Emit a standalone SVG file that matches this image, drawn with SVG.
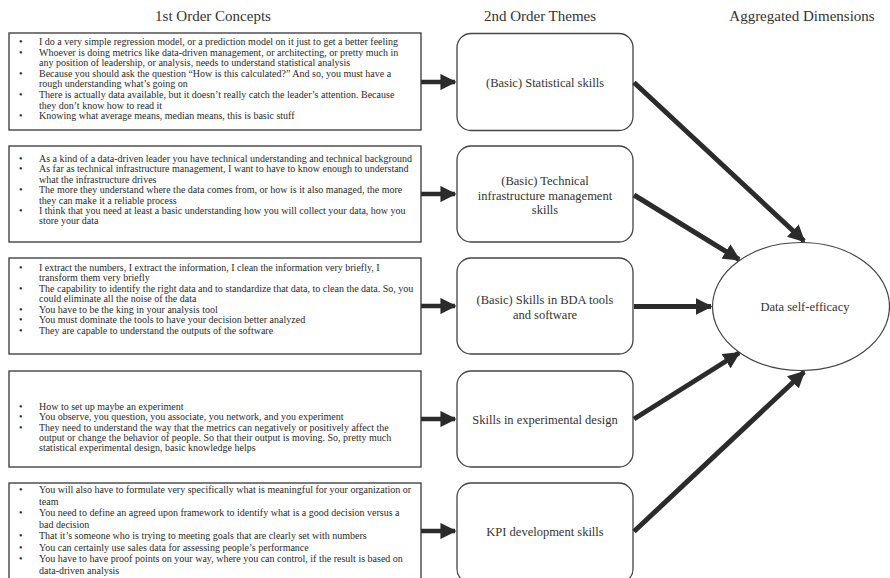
<svg xmlns="http://www.w3.org/2000/svg" width="890" height="578" viewBox="0 0 890 578">
<defs>
<style>
.hdr{font-family:"Liberation Serif","Times New Roman",serif;font-size:15px;fill:#333;text-anchor:middle}
.src{fill:#fff;stroke:#444;stroke-width:1.4}
.thm{fill:#fff;stroke:#444;stroke-width:1.3}
.t{font-family:"Liberation Serif","Times New Roman",serif;font-size:10px;fill:#2a2a2a}
.m{font-family:"Liberation Serif","Times New Roman",serif;font-size:12.5px;fill:#333;text-anchor:middle}
.con{stroke:#2b2b2b;stroke-width:5;fill:none}
.hz{stroke:#2b2b2b;stroke-width:4.5;fill:none}
</style>
<marker id="ah" viewBox="0 0 10 10" refX="9" refY="5" markerWidth="3.4" markerHeight="3.4" markerUnits="strokeWidth" orient="auto">
<path d="M0,0 L10,5 L0,10 z" fill="#2b2b2b"/>
</marker>
<marker id="ahh" viewBox="0 0 10 10" refX="9" refY="5" markerWidth="3.6" markerHeight="3.6" markerUnits="strokeWidth" orient="auto">
<path d="M0,0 L10,5 L0,10 z" fill="#2b2b2b"/>
</marker>
</defs>
<rect width="890" height="578" fill="#fff"/>
<text class="hdr" x="213" y="21">1st Order Concepts</text>
<text class="hdr" x="540" y="21">2nd Order Themes</text>
<text class="hdr" x="802" y="21">Aggregated Dimensions</text>

<g id="src1">
<rect class="src" x="9" y="33" width="412" height="97"/>
<text class="t"><tspan x="19" y="45">•</tspan><tspan x="39" y="45">I do a very simple regression model, or a prediction model on it just to get a better feeling</tspan>
<tspan x="19" y="55.6">•</tspan><tspan x="39" y="55.6">Whoever is doing metrics like data-driven management, or architecting, or pretty much in</tspan>
<tspan x="39" y="66.2">any position of leadership, or analysis,  needs to understand statistical analysis</tspan>
<tspan x="19" y="76.8">•</tspan><tspan x="39" y="76.8">Because you should ask the question “How is this  calculated?” And so, you must have a</tspan>
<tspan x="39" y="87.4">rough understanding what’s going on</tspan>
<tspan x="19" y="98">•</tspan><tspan x="39" y="98">There is actually data available, but it doesn’t really catch the leader’s attention. Because</tspan>
<tspan x="39" y="108.6">they don’t know how to read it</tspan>
<tspan x="19" y="119.2">•</tspan><tspan x="39" y="119.2">Knowing what average means, median means, this is basic stuff</tspan></text>
</g>

<g id="src2">
<rect class="src" x="9" y="146" width="412" height="96"/>
<text class="t"><tspan x="19" y="162">•</tspan><tspan x="39" y="162">As a kind of a data-driven leader you have technical understanding and technical background</tspan>
<tspan x="19" y="172.4">•</tspan><tspan x="39" y="172.4">As far as technical infrastructure management, I want  to have to know enough to understand</tspan>
<tspan x="39" y="182.8">what the infrastructure drives</tspan>
<tspan x="19" y="193.2">•</tspan><tspan x="39" y="193.2">The more they understand where the data comes from, or how is it also managed, the more</tspan>
<tspan x="39" y="203.6">they can make it a reliable process</tspan>
<tspan x="19" y="214">•</tspan><tspan x="39" y="214">I think that you need at least a basic understanding how you will collect your data, how you</tspan>
<tspan x="39" y="224.4">store your data</tspan></text>
</g>

<g id="src3">
<rect class="src" x="9" y="258" width="412" height="96"/>
<text class="t"><tspan x="19" y="270.5">•</tspan><tspan x="39" y="270.5">I extract the numbers, I extract the information, I clean the information very briefly, I</tspan>
<tspan x="39" y="281">transform them very briefly</tspan>
<tspan x="19" y="291.5">•</tspan><tspan x="39" y="291.5">The capability to identify the right data and to standardize that data, to clean the data. So, you</tspan>
<tspan x="39" y="302">could eliminate all the noise of the data</tspan>
<tspan x="19" y="312.5">•</tspan><tspan x="39" y="312.5">You have to be the king in your analysis tool</tspan>
<tspan x="19" y="323">•</tspan><tspan x="39" y="323">You must dominate the tools to have your decision better analyzed</tspan>
<tspan x="19" y="333.5">•</tspan><tspan x="39" y="333.5">They are capable to understand the outputs of the software</tspan></text>
</g>

<g id="src4">
<rect class="src" x="9" y="371" width="412" height="96"/>
<text class="t"><tspan x="19" y="410">•</tspan><tspan x="39" y="410">How to set up maybe an experiment</tspan>
<tspan x="19" y="420.3">•</tspan><tspan x="39" y="420.3">You observe, you question, you associate, you network, and you experiment</tspan>
<tspan x="19" y="430.6">•</tspan><tspan x="39" y="430.6">They need to understand the way  that the metrics can negatively or positively affect the</tspan>
<tspan x="39" y="440.9">output or change the behavior of people. So that their output is moving.  So, pretty much</tspan>
<tspan x="39" y="451.2">statistical experimental design, basic knowledge helps</tspan></text>
</g>

<g id="src5">
<rect class="src" x="9" y="483" width="412" height="100"/>
<text class="t"><tspan x="19" y="493">•</tspan><tspan x="39" y="493">You will also have to formulate very specifically what is meaningful for your organization or</tspan>
<tspan x="39" y="504.5">team</tspan>
<tspan x="19" y="516">•</tspan><tspan x="39" y="516">You need to define an agreed upon framework to identify what  is a good decision versus a</tspan>
<tspan x="39" y="527.5">bad decision</tspan>
<tspan x="19" y="539">•</tspan><tspan x="39" y="539">That  it’s someone who is trying to meeting goals that are clearly set with numbers</tspan>
<tspan x="19" y="550.5">•</tspan><tspan x="39" y="550.5">You can certainly use sales data for assessing people’s performance</tspan>
<tspan x="19" y="562">•</tspan><tspan x="39" y="562">You  have to have proof points on your way,  where you can control, if the result is based on</tspan>
<tspan x="39" y="573.5">data-driven analysis</tspan></text>
</g>

<g id="theme1">
<rect class="thm" x="457" y="33.5" width="176" height="97" rx="14"/>
<text class="m" x="545" y="87">(Basic) Statistical  skills</text>
</g>
<g id="theme2">
<rect class="thm" x="457" y="146" width="176" height="96" rx="14"/>
<text class="m" x="545" y="184.5">(Basic) Technical</text>
<text class="m" x="545" y="199.5">infrastructure management</text>
<text class="m" x="545" y="214">skills</text>
</g>
<g id="theme3">
<rect class="thm" x="457" y="258" width="176" height="96" rx="14"/>
<text class="m" x="545" y="303.5">(Basic) Skills in BDA tools</text>
<text class="m" x="545" y="318.5">and software</text>
</g>
<g id="theme4">
<rect class="thm" x="457" y="371" width="176" height="96" rx="14"/>
<text class="m" x="545" y="423.5">Skills in experimental  design</text>
</g>
<g id="theme5">
<rect class="thm" x="457" y="483" width="176" height="100" rx="14"/>
<text class="m" x="545" y="536">KPI development  skills</text>
</g>

<g id="dim">
<ellipse cx="801" cy="306.5" rx="88.5" ry="64" fill="#fff" stroke="#444" stroke-width="1.2"/>
<text class="m" x="805" y="311">Data self-efficacy</text>
</g>

<g id="connectors">
<line class="hz" x1="421" y1="82" x2="455" y2="82" marker-end="url(#ahh)"/>
<line class="hz" x1="421" y1="194" x2="455" y2="194" marker-end="url(#ahh)"/>
<line class="hz" x1="421" y1="306" x2="455" y2="306" marker-end="url(#ahh)"/>
<line class="hz" x1="421" y1="419" x2="455" y2="419" marker-end="url(#ahh)"/>
<line class="hz" x1="421" y1="531" x2="455" y2="531" marker-end="url(#ahh)"/>
<line class="con" x1="634" y1="82.5" x2="804" y2="241" marker-end="url(#ah)"/>
<line class="con" x1="634" y1="195" x2="739" y2="259.5" marker-end="url(#ah)"/>
<line class="con" x1="634" y1="306.5" x2="711" y2="306.5" marker-end="url(#ah)"/>
<line class="con" x1="634" y1="419" x2="739" y2="353" marker-end="url(#ah)"/>
<line class="con" x1="634" y1="531.5" x2="804" y2="372" marker-end="url(#ah)"/>
</g>
</svg>
